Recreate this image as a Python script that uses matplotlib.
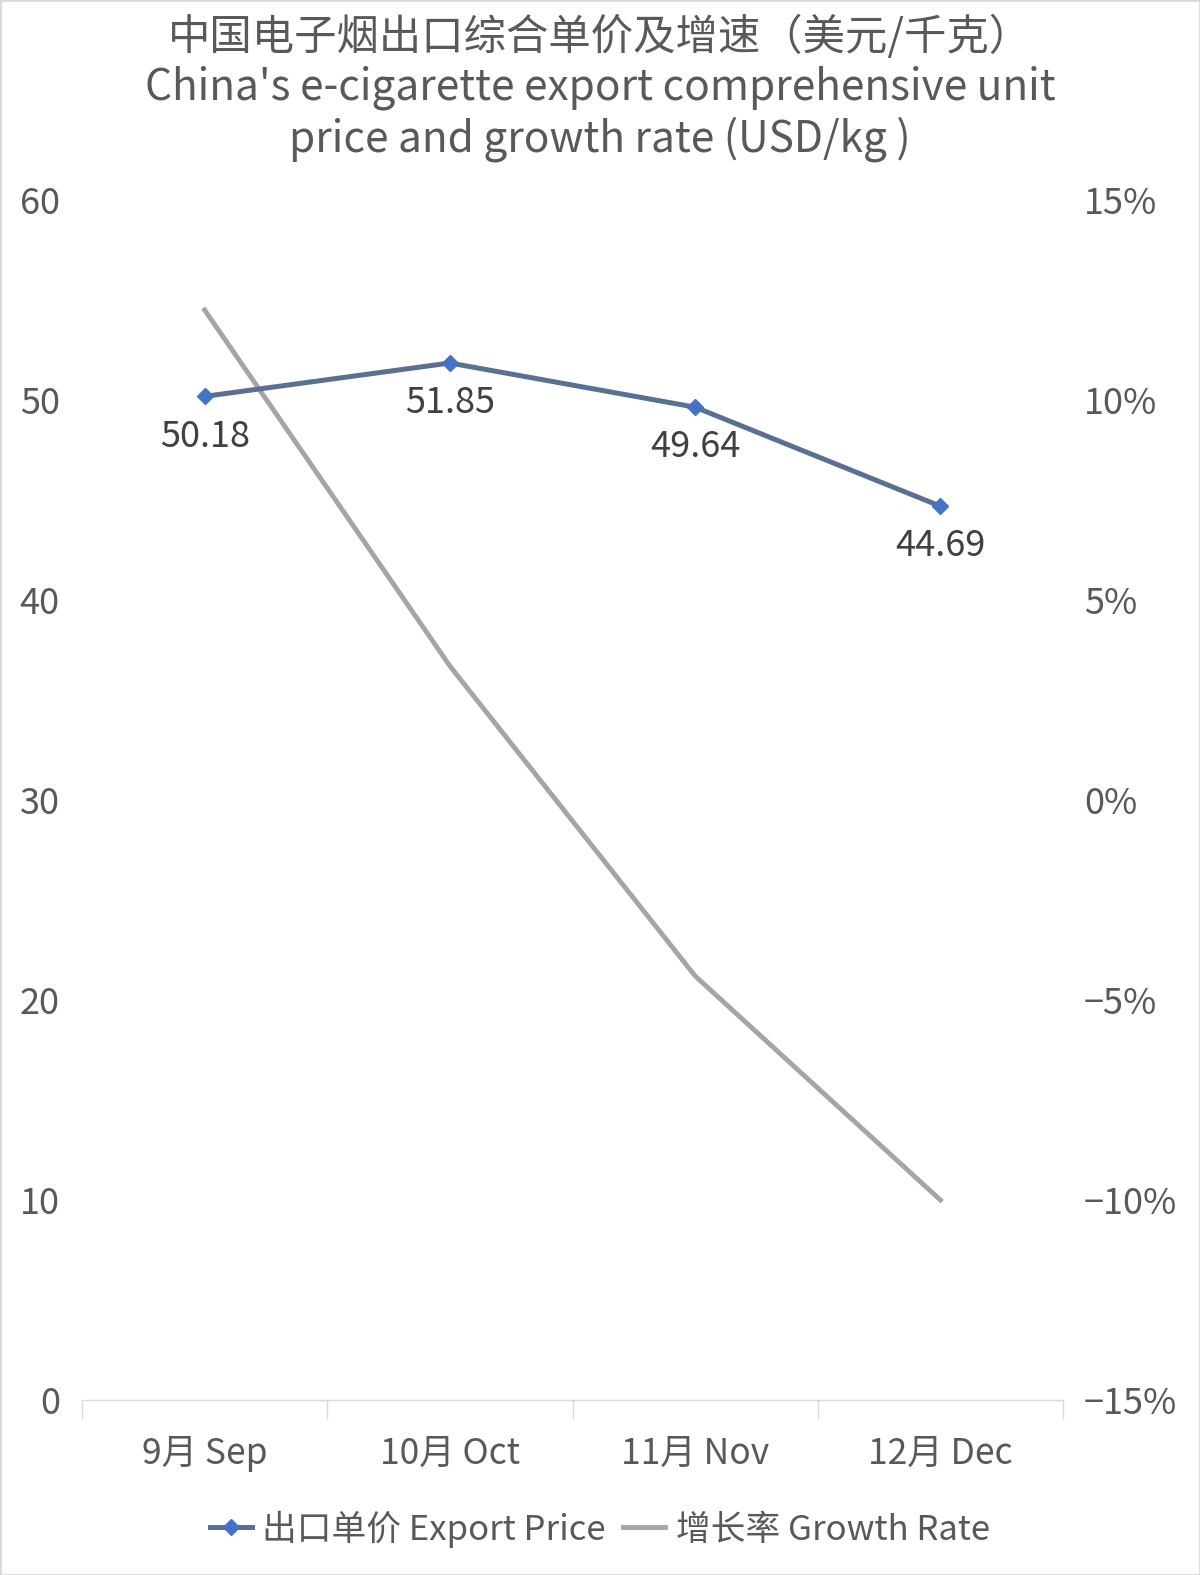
import matplotlib
matplotlib.use("Agg")
import matplotlib.pyplot as plt
from matplotlib.ticker import FuncFormatter, MultipleLocator
from matplotlib.patches import Rectangle

plt.rcParams['font.family'] = ['Noto Sans CJK SC', 'DejaVu Sans']

categories = ["9月 Sep", "10月 Oct", "11月 Nov", "12月 Dec"]
export_price = [50.18, 51.85, 49.64, 44.69]
growth_rate = [12.25, 3.35, -4.4, -10.0]  # percent
price_labels = ["50.18", "51.85", "49.64", "44.69"]

title = "中国电子烟出口综合单价及增速（美元/千克）\nChina's e-cigarette export comprehensive unit\nprice and growth rate (USD/kg )"

fig = plt.figure(figsize=(12, 15.75), dpi=100)
ax = fig.add_axes([82/1200, 1 - 1400/1575, (1063-82)/1200, 1200/1575])
ax2 = ax.twinx()

x = list(range(len(categories)))

ax2.plot(x, growth_rate, color="#A5A5A5", lw=3.5, solid_joinstyle="round", zorder=2,
         label="增长率 Growth Rate")
ax.plot(x, export_price, color="#5A7092", lw=3.6, marker="D", markersize=8,
        markerfacecolor="#4472C4", markeredgecolor="#4472C4", zorder=3,
        label="出口单价 Export Price")
ax.set_zorder(ax2.get_zorder() + 1)
ax.patch.set_visible(False)

for xi, yi, lab in zip(x, export_price, price_labels):
    ax.annotate(lab, (xi, yi), xytext=(0, -29), textcoords="offset points",
                ha="center", va="center", fontsize=26, color="#404040", zorder=4)

ax.set_xlim(-0.5, 3.5)
ax.set_ylim(0, 60)
ax2.set_ylim(-15, 15)
ax.yaxis.set_major_locator(MultipleLocator(10))
ax2.yaxis.set_major_locator(MultipleLocator(5))
ax2.yaxis.set_major_formatter(FuncFormatter(lambda v, p: f"{int(round(v))}%".replace("-", "\u2212")))

ax.set_xticks(x)
ax.set_xticklabels(categories)
ax.set_xticks([-0.5, 0.5, 1.5, 2.5, 3.5], minor=True)
ax.tick_params(axis="x", which="major", length=0, pad=26, labelsize=25.5, labelcolor="#595959")
ax.tick_params(axis="x", which="minor", length=14, width=1, color="#D9D9D9")
ax.tick_params(axis="y", length=0, pad=16, labelsize=26, labelcolor="#595959")
ax2.tick_params(axis="y", length=0, pad=15, labelsize=26, labelcolor="#595959")

for a in (ax, ax2):
    for s in ("top", "left", "right"):
        a.spines[s].set_visible(False)
ax2.spines["bottom"].set_visible(False)
ax.spines["bottom"].set_color("#D9D9D9")
ax.spines["bottom"].set_linewidth(1)

fig.text(0.5, 1 - 89/1575, title, ha="center", va="center", fontsize=30.5,
         color="#595959", linespacing=1.18)

h1, l1 = ax.get_legend_handles_labels()
h2, l2 = ax2.get_legend_handles_labels()
fig.legend(h1 + h2, l1 + l2, loc="center", bbox_to_anchor=(0.5, 1 - 1529/1575),
           ncol=2, frameon=False, fontsize=25, labelcolor="#595959",
           handlelength=1.2, handletextpad=0.3, columnspacing=0.5)

fig.patches.append(Rectangle((0, 0), 1, 1, transform=fig.transFigure, fill=False,
                             edgecolor="#D9D9D9", lw=2))

fig.savefig("out.png", dpi=100, facecolor="white")
